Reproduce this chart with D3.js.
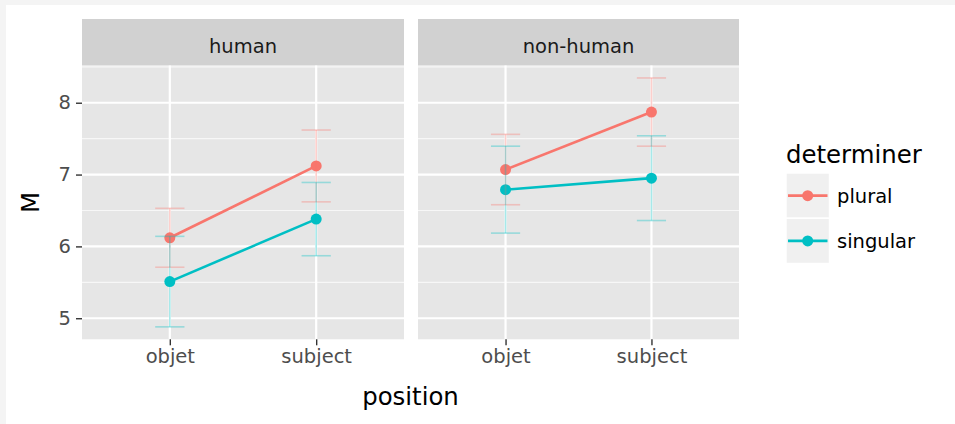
<!DOCTYPE html>
<html>
<head>
<meta charset="utf-8">
<script src="https://cdn.jsdelivr.net/npm/d3@7"></script>
<style>
  html, body { margin: 0; padding: 0; background: #f4f4f4; }
  svg { display: block; }
  text { font-family: "DejaVu Sans", "Liberation Sans", Arial, sans-serif; }
</style>
</head>
<body>
<svg id="chart" width="955" height="424"></svg>
<script>
// Positions on the x axis, facets and determiner groups
const positions = ["objet", "subject"];
const facets = ["human", "non-human"];
const determiners = ["plural", "singular"];
const yTicks = [5, 6, 7, 8];

// Mean ratings M per facet, indexed by position
const pluralHuman = [6.12, 7.12];
const singularHuman = [5.51, 6.38];
const pluralNonHuman = [7.07, 7.87];
const singularNonHuman = [6.79, 6.95];

// Half-widths of the error bars, indexed by position
const pluralHumanErr = [0.41, 0.50];
const singularHumanErr = [0.63, 0.51];
const pluralNonHumanErr = [0.49, 0.475];
const singularNonHumanErr = [0.605, 0.59];

const colors = { plural: "#F8766D", singular: "#00BFC4" };

const series = [
  { facet: "human", det: "plural", m: pluralHuman, e: pluralHumanErr },
  { facet: "human", det: "singular", m: singularHuman, e: singularHumanErr },
  { facet: "non-human", det: "plural", m: pluralNonHuman, e: pluralNonHumanErr },
  { facet: "non-human", det: "singular", m: singularNonHuman, e: singularNonHumanErr }
];

const svg = d3.select("#chart");

// white plotting card
svg.append("rect").attr("x", 6).attr("y", 5).attr("width", 949).attr("height", 419).attr("fill", "#ffffff");

// layout
const panelTop = 65.5, panelBottom = 339.3, stripTop = 19;
const panels = [{ x0: 82, x1: 404 }, { x0: 418, x1: 739 }];

// y scale with 5% expansion around the error bar extents
const lows = series.flatMap(s => s.m.map((v, i) => v - s.e[i]));
const highs = series.flatMap(s => s.m.map((v, i) => v + s.e[i]));
const lo = d3.min(lows), hi = d3.max(highs), pad = (hi - lo) * 0.05;
const y = d3.scaleLinear().domain([lo - pad, hi + pad]).range([panelBottom, panelTop]);
const minorTicks = d3.range(Math.ceil((lo - pad) * 2) / 2, hi + pad, 0.5).filter(v => !Number.isInteger(v));

facets.forEach((f, fi) => {
  const p = panels[fi];
  const x = d3.scalePoint().domain(positions).range([p.x0, p.x1]).padding(0.6);
  const g = svg.append("g");

  // strip
  g.append("rect").attr("x", p.x0).attr("y", stripTop).attr("width", p.x1 - p.x0)
    .attr("height", panelTop - stripTop).attr("fill", "#d1d1d1");
  g.append("text").attr("x", (p.x0 + p.x1) / 2).attr("y", 52.5).attr("text-anchor", "middle")
    .attr("font-size", 19.5).attr("fill", "#1a1a1a").text(f);

  // panel background and grid
  g.append("rect").attr("x", p.x0).attr("y", panelTop).attr("width", p.x1 - p.x0)
    .attr("height", panelBottom - panelTop).attr("fill", "#e6e6e6");
  g.selectAll(".minor").data(minorTicks).join("line")
    .attr("x1", p.x0).attr("x2", p.x1).attr("y1", d => y(d)).attr("y2", d => y(d))
    .attr("stroke", "#f7f7f7").attr("stroke-width", 1.2);
  g.selectAll(".major").data(yTicks).join("line")
    .attr("x1", p.x0).attr("x2", p.x1).attr("y1", d => y(d)).attr("y2", d => y(d))
    .attr("stroke", "#ffffff").attr("stroke-width", 2.2);
  g.selectAll(".vmajor").data(positions).join("line")
    .attr("x1", d => x(d)).attr("x2", d => x(d)).attr("y1", panelTop).attr("y2", panelBottom)
    .attr("stroke", "#ffffff").attr("stroke-width", 2.2);

  // x axis
  const xa = g.append("g").attr("transform", `translate(0,${panelBottom})`)
    .call(d3.axisBottom(x).tickSize(6).tickPadding(4));
  xa.select(".domain").remove();
  xa.selectAll(".tick line").attr("stroke", "#333333").attr("stroke-width", 1.4);
  xa.selectAll(".tick text").attr("font-size", 19.5).attr("fill", "#4d4d4d")
    .attr("font-family", "DejaVu Sans, sans-serif").attr("dy", "0.71em");

  // y axis on the first panel only
  if (fi === 0) {
    const ya = g.append("g").attr("transform", `translate(${p.x0},0)`)
      .call(d3.axisLeft(y).tickValues(yTicks).tickFormat(d3.format("d")).tickSize(6).tickPadding(5));
    ya.select(".domain").remove();
    ya.selectAll(".tick line").attr("stroke", "#333333").attr("stroke-width", 1.4);
    ya.selectAll(".tick text").attr("font-size", 19.5).attr("fill", "#4d4d4d")
      .attr("font-family", "DejaVu Sans, sans-serif");
  }

  const fs = series.filter(s => s.facet === f);
  const line = d3.line().x(d => x(d.pos)).y(d => y(d.v));

  fs.forEach(s => {
    const pts = positions.map((pos, i) => ({ pos, v: s.m[i], e: s.e[i] }));
    g.append("path").datum(pts).attr("d", line).attr("fill", "none")
      .attr("stroke", colors[s.det]).attr("stroke-width", 2.6);
    g.selectAll(null).data(pts).join("circle")
      .attr("cx", d => x(d.pos)).attr("cy", d => y(d.v)).attr("r", 5.5).attr("fill", colors[s.det]);
  });

  // error bars
  const capHalf = x.step() * 0.1;
  fs.forEach(s => {
    const pts = positions.map((pos, i) => ({ pos, v: s.m[i], e: s.e[i] }));
    const eb = g.append("g").attr("stroke", colors[s.det]).attr("stroke-opacity", 0.35).attr("stroke-width", 1.6);
    pts.forEach(d => {
      const cx = x(d.pos);
      eb.append("line").attr("x1", cx).attr("x2", cx).attr("y1", y(d.v - d.e)).attr("y2", y(d.v + d.e));
      eb.append("line").attr("x1", cx - capHalf).attr("x2", cx + capHalf).attr("y1", y(d.v + d.e)).attr("y2", y(d.v + d.e));
      eb.append("line").attr("x1", cx - capHalf).attr("x2", cx + capHalf).attr("y1", y(d.v - d.e)).attr("y2", y(d.v - d.e));
    });
  });
});

// axis titles
svg.append("text").attr("x", (panels[0].x0 + panels[1].x1) / 2).attr("y", 405)
  .attr("text-anchor", "middle").attr("font-size", 24.4).attr("fill", "#000").text("position");
svg.append("text").attr("transform", `translate(39,${(panelTop + panelBottom) / 2}) rotate(-90)`)
  .attr("text-anchor", "middle").attr("font-size", 24.4).attr("fill", "#000").text("M");

// legend
const lg = svg.append("g");
lg.append("text").attr("x", 786).attr("y", 162.5).attr("font-size", 24.4).attr("fill", "#000").text("determiner");
const keyY = d3.scaleBand().domain(determiners).range([173, 263.5]).paddingInner(0);
determiners.forEach(d => {
  const ky = keyY(d), kh = keyY.bandwidth();
  lg.append("rect").attr("x", 786).attr("y", ky).attr("width", 43.5).attr("height", kh)
    .attr("fill", "#f0f0f0").attr("stroke", "#ffffff").attr("stroke-width", 1.4);
  const cy = ky + kh / 2;
  lg.append("line").attr("x1", 788).attr("x2", 827.5).attr("y1", cy).attr("y2", cy)
    .attr("stroke", colors[d]).attr("stroke-width", 2.6);
  lg.append("circle").attr("cx", 807.7).attr("cy", cy).attr("r", 5.5).attr("fill", colors[d]);
  lg.append("text").attr("x", 837).attr("y", cy + 7).attr("font-size", 19.5).attr("fill", "#000").text(d);
});
</script>
</body>
</html>
